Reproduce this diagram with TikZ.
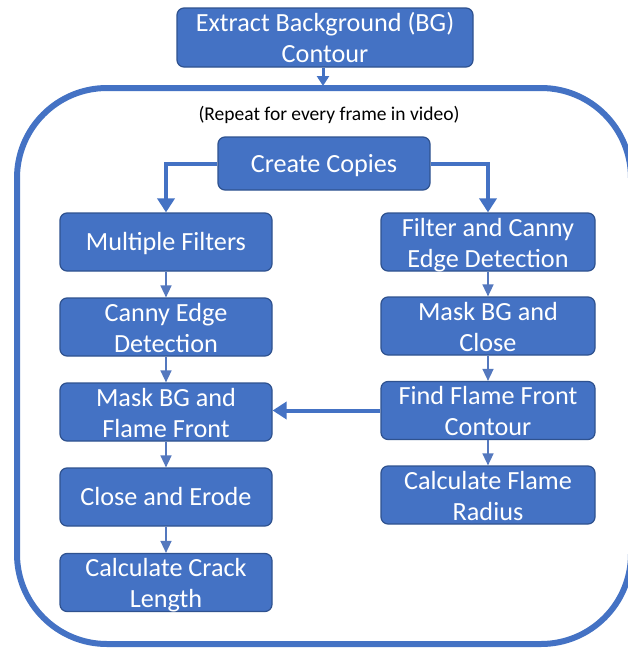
\documentclass[tikz,border=0pt]{standalone}
\usepackage{fontspec}
\setmainfont{Carlito}
\usetikzlibrary{arrows.meta}
\definecolor{boxfill}{HTML}{4472C4}
\definecolor{boxline}{HTML}{2F528F}
\definecolor{thinline}{HTML}{5478BE}
\tikzset{
  stepbox/.style={fill=boxfill, draw=boxline, line width=1.2pt, rounded corners=7pt,
    text=white, font=\fontsize{26.2}{31}\selectfont, align=center, inner sep=0pt},
  oneline/.style={text height=20pt, text depth=3pt},
  twoline/.style={text height=52pt, text depth=2pt},
  leftbox/.style={stepbox, minimum width=212pt, minimum height=58pt},
  rightbox/.style={stepbox, minimum width=214pt, minimum height=58pt},
  thickarrow/.style={draw=boxfill, line width=4pt, -{Triangle[length=14pt,width=17pt]}},
  thinarrow/.style={draw=thinline, line width=1.5pt, -{Triangle[length=12pt,width=11pt]}},
  frame/.style={draw=boxfill, line width=6pt, rounded corners=90pt}
}
\begin{document}
\begin{tikzpicture}[x=1pt,y=-1pt]
\useasboundingbox (0,0) rectangle (628,651);
\clip (0,0) rectangle (628,651);
\fill[white] (0,0) rectangle (628,651);
% outer loop frame
\draw[frame] (17,88) rectangle (631,644);
\coordinate (frametop) at (323,86);
% top box
\node[stepbox, twoline, minimum width=296pt, minimum height=59pt] (bg) at (325,37.5) {Extract Background (BG)\\Contour};
\draw[draw=boxfill, line width=3pt, -{Triangle[length=10pt,width=12pt]}] (bg.south -| frametop) -- (frametop);
\node[font=\fontsize{19.5}{23}\selectfont, text=black] (rep) at (329,115) {(Repeat for every frame in video)};
% create copies
\node[stepbox, oneline, minimum width=212pt, minimum height=53pt] (cc) at (324,163.5) {Create Copies};
% left column
\node[leftbox, oneline] (mf) at (166,242) {Multiple Filters};
\node[leftbox, twoline] (ced) at (166,327) {Canny Edge\\Detection};
\node[leftbox, twoline] (mbf) at (166,412) {Mask BG and\\Flame Front};
\node[leftbox, oneline] (cae) at (166,497) {Close and Erode};
\node[leftbox, twoline] (ccl) at (166,582.5) {Calculate Crack\\Length};
% right column
\node[rightbox, twoline] (fced) at (488,242) {Filter and Canny\\Edge Detection};
\node[rightbox, twoline] (mbc) at (488,326) {Mask BG and\\Close};
\node[rightbox, twoline] (ffc) at (488,410.5) {Find Flame Front\\Contour};
\node[rightbox, twoline] (cfr) at (488,495) {Calculate Flame\\Radius};
% connectors
\draw[thickarrow] (cc.west) -| (mf.north);
\draw[thickarrow] (cc.east) -| (fced.north);
\draw[thinarrow] (mf) -- (ced);
\draw[thinarrow] (ced) -- (mbf);
\draw[thinarrow] (mbf) -- (cae);
\draw[thinarrow] (cae) -- (ccl);
\draw[thinarrow] (fced) -- (mbc);
\draw[thinarrow] (mbc) -- (ffc);
\draw[thinarrow] (ffc) -- (cfr);
\draw[thickarrow] (ffc.west) -- (ffc.west -| mbf.east);
\end{tikzpicture}
\end{document}
